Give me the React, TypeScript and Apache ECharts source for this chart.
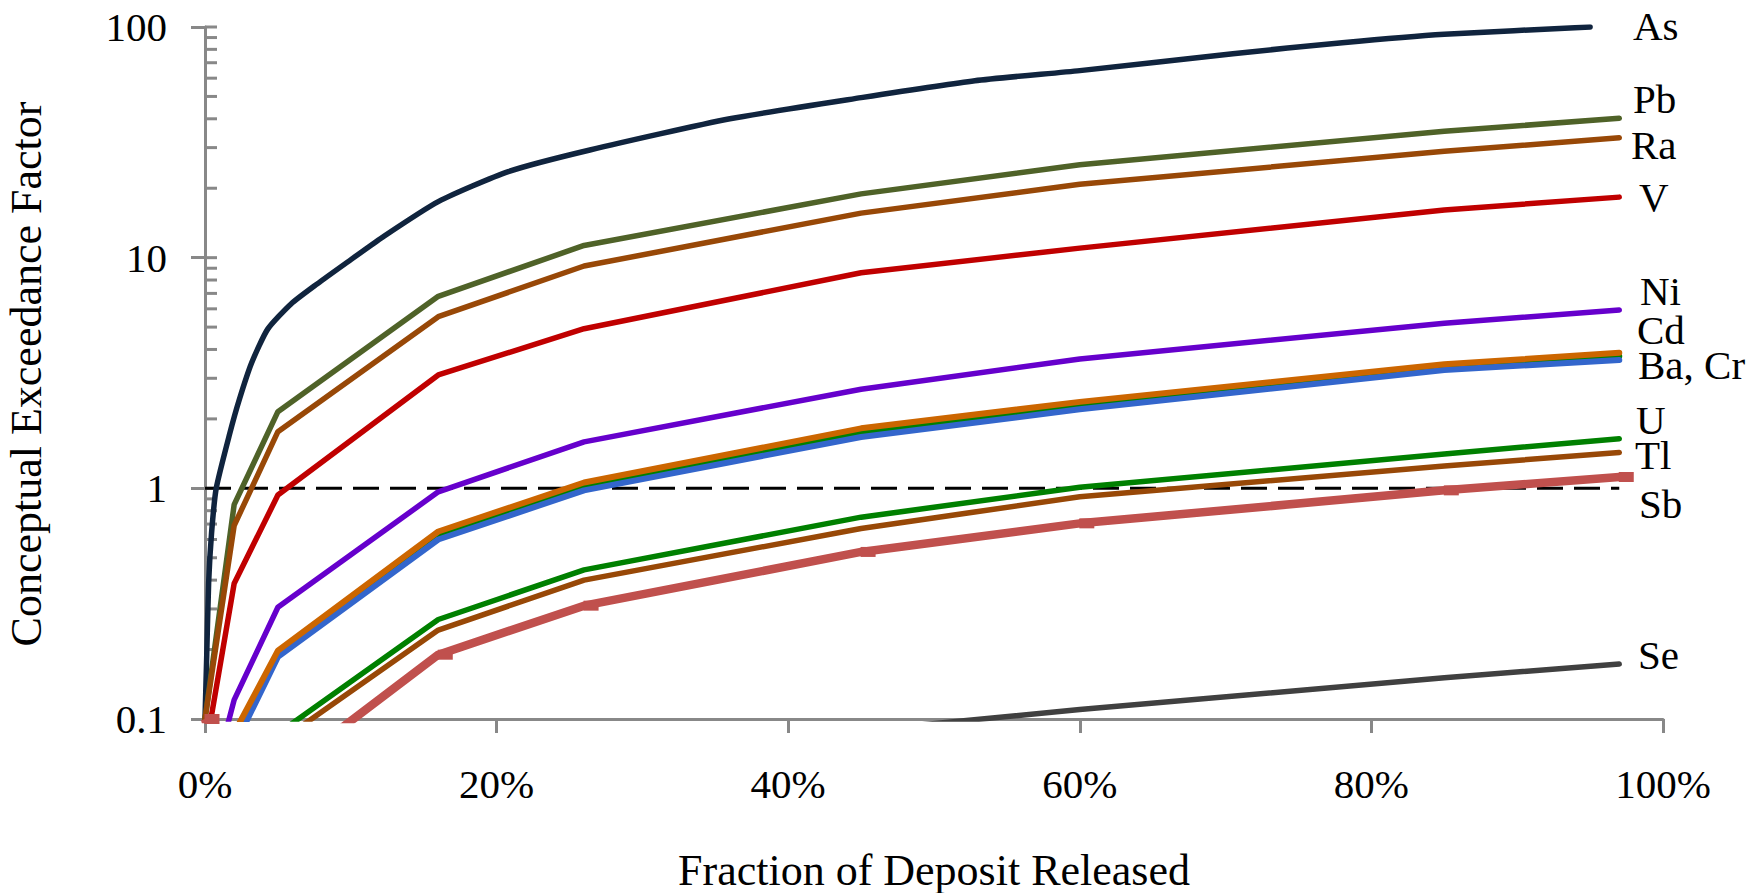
import React, { useEffect, useRef } from "react";
import * as echarts from "echarts";

// Fraction of deposit released (%) at each evaluation step
const releasePct = [0, 2, 5, 16, 26, 45, 60, 85, 97];

// Conceptual exceedance factor per element at each release step
const pb = [0.1, 0.85, 2.15, 6.8, 11.3, 18.9, 25.3, 35.3, 40.2];
const ra = [0.1, 0.69, 1.76, 5.55, 9.2, 15.6, 20.8, 28.9, 33.1];
const v = [0.071, 0.387, 0.935, 3.1, 4.92, 8.6, 11.0, 16.1, 18.3];
const ni = [0.04, 0.121, 0.305, 0.966, 1.59, 2.69, 3.64, 5.2, 5.93];
const cd = [0.03, 0.087, 0.198, 0.65, 1.06, 1.82, 2.37, 3.45, 3.87];
const ba = [0.03, 0.082, 0.192, 0.625, 1.02, 1.74, 2.29, 3.35, 3.74];
const cr = [0.03, 0.076, 0.186, 0.6, 0.98, 1.67, 2.2, 3.26, 3.6];
const u = [0.03, 0.064, 0.0865, 0.27, 0.443, 0.75, 1.01, 1.41, 1.64];
const tl = [0.03, 0.058, 0.079, 0.243, 0.4, 0.67, 0.92, 1.25, 1.43];
const sb = [0.1, 0.04, 0.0565, 0.19, 0.31, 0.53, 0.705, 0.98, 1.12];
const se = [0.01, 0.02, 0.03, 0.05, 0.07, 0.089, 0.11, 0.151, 0.173];

// Arsenic is sampled more finely and runs up to the top of the scale
const asPct = [0, 0.12, 0.25, 0.45, 0.77, 1.7, 2.35, 3.2, 4.3, 5.9, 7.7, 9.6, 12.2, 16, 20.8, 26.4, 36, 45, 52.8, 60, 70.5, 78, 85, 95];
const asVal = [0.1, 0.19, 0.39, 0.64, 1.0, 1.73, 2.42, 3.5, 4.9, 6.3, 7.7, 9.4, 12.3, 17.5, 23.6, 29.3, 40, 49.4, 58.5, 64.7, 76.6, 85.5, 93, 100];

// Exceedance threshold (factor = 1)
const thresholdPct = [0, 97];
const thresholdVal = [1, 1];

// Axis ranges
const xMin = 0;
const xMax = 100;
const xStep = 20;
const yMin = 0.1;
const yMax = 100;
const yMajorTicks = [0.1, 1, 10, 100];
const yMinorMultipliers = [2, 3, 4, 5, 6, 7, 8, 9];

const xTitle = "Fraction of Deposit Released";
const yTitle = "Conceptual Exceedance Factor";

const FONT = "'Liberation Serif', 'Times New Roman', serif";
const GREY = "#888888";

// End-of-line element labels (text, left x, middle y in px)
const endLabels: [string, number, number][] = [
  ["As", 1633, 26],
  ["Pb", 1633, 99],
  ["Ra", 1631, 145],
  ["V", 1639, 197],
  ["Ni", 1640, 291],
  ["Cd", 1637, 330],
  ["Ba, Cr", 1638, 365],
  ["U", 1636, 420],
  ["Tl", 1635, 455],
  ["Sb", 1639, 504],
  ["Se", 1638, 655],
];

const pairs = (xs: number[], ys: number[]) => xs.map((x, i) => [x, ys[i]]);

function lineSeries(name: string, xs: number[], ys: number[], color: string, width: number, extra: any = {}) {
  return {
    name,
    type: "line",
    data: pairs(xs, ys),
    showSymbol: false,
    symbol: "none",
    lineStyle: { color, width, cap: "round", join: "round" },
    itemStyle: { color },
    clip: true,
    silent: true,
    z: 3,
    ...extra,
  };
}

export default function App() {
  const ref = useRef<HTMLDivElement>(null);

  useEffect(() => {
    if (!ref.current) return;
    const chart = echarts.init(ref.current, null, { renderer: "svg" });

    // Inner tick marks on the log axis: decades plus 2..9 within each decade
    const innerTicks: number[][] = [];
    yMajorTicks.forEach((m) => innerTicks.push([0, m]));
    yMajorTicks.slice(0, -1).forEach((d) =>
      yMinorMultipliers.forEach((k) => innerTicks.push([0, +(d * k).toPrecision(3)]))
    );

    const textStyle = (text: string, size: number, align: string) => ({
      text,
      fontFamily: FONT,
      fontSize: size,
      lineHeight: 32,
      fill: "#000",
      align,
      verticalAlign: "middle",
    });

    const option: any = {
      animation: false,
      backgroundColor: "#ffffff",
      grid: { left: 205, right: 95, top: 27, bottom: 174, containLabel: false },
      xAxis: {
        type: "value",
        min: xMin,
        max: xMax,
        interval: xStep,
        axisLine: { onZero: false, lineStyle: { color: GREY, width: 3 } },
        axisTick: { show: true, inside: false, length: 14, lineStyle: { color: GREY, width: 3 } },
        splitLine: { show: false },
        axisLabel: {
          formatter: (val: number) => `${val}%`,
          fontFamily: FONT,
          fontSize: 41,
          color: "#000",
          margin: 44,
        },
      },
      yAxis: {
        type: "log",
        logBase: 10,
        min: yMin,
        max: yMax,
        axisLine: { onZero: false, lineStyle: { color: GREY, width: 3 } },
        axisTick: { show: true, inside: false, length: 14, lineStyle: { color: GREY, width: 3 } },
        minorTick: { show: false },
        splitLine: { show: false },
        axisLabel: {
          formatter: (val: number) => String(+val.toPrecision(3)),
          fontFamily: FONT,
          fontSize: 41,
          color: "#000",
          margin: 38,
        },
      },
      graphic: [
        {
          type: "text",
          x: 26,
          y: 374,
          rotation: Math.PI / 2,
          style: textStyle(yTitle, 44, "center"),
        },
        {
          type: "text",
          x: 934,
          y: 870,
          style: textStyle(xTitle, 44, "center"),
        },
        ...endLabels.map(([text, x, y]) => ({
          type: "text",
          x,
          y,
          style: textStyle(text, 41, "left"),
        })),
      ],
      series: [
        {
          name: "ticks",
          type: "custom",
          data: innerTicks,
          silent: true,
          z: 1,
          renderItem: (_p: any, api: any) => {
            const pt = api.coord([api.value(0), api.value(1)]);
            return {
              type: "line",
              shape: { x1: pt[0], y1: pt[1], x2: pt[0] + 12, y2: pt[1] },
              style: { stroke: GREY, lineWidth: 3 },
            };
          },
        },
        {
          name: "threshold",
          type: "line",
          data: pairs(thresholdPct, thresholdVal),
          showSymbol: false,
          symbol: "none",
          lineStyle: { color: "#000", width: 3, type: [26, 11] },
          silent: true,
          z: 2,
        },
        lineSeries("As", asPct, asVal, "#10243E", 5.5, { smooth: 0.2 }),
        lineSeries("Pb", releasePct, pb, "#4F6228", 5.5),
        lineSeries("Ra", releasePct, ra, "#984807", 5.5),
        lineSeries("V", releasePct, v, "#C00000", 5.5),
        lineSeries("Ni", releasePct, ni, "#6600CC", 5.5),
        lineSeries("Ba", releasePct, ba, "#008000", 6),
        lineSeries("Cr", releasePct, cr, "#3366CC", 6),
        lineSeries("Cd", releasePct, cd, "#CC6600", 6),
        lineSeries("U", releasePct, u, "#008000", 5.5),
        lineSeries("Tl", releasePct, tl, "#984807", 5.5),
        lineSeries("Sb", releasePct, sb, "#C0504D", 8.5, {
          showSymbol: true,
          symbol: "rect",
          symbolSize: [15, 10],
          symbolOffset: [7, 0],
          lineStyle: { color: "#C0504D", width: 8.5, cap: "butt", join: "round" },
        }),
        lineSeries("Se", releasePct, se, "#404040", 5.5),
      ],
    };

    chart.setOption(option);
    return () => chart.dispose();
  }, []);

  return (
    <div
      ref={ref}
      style={{ position: "fixed", left: 0, top: 0, width: 1758, height: 893, background: "#fff" }}
    />
  );
}
